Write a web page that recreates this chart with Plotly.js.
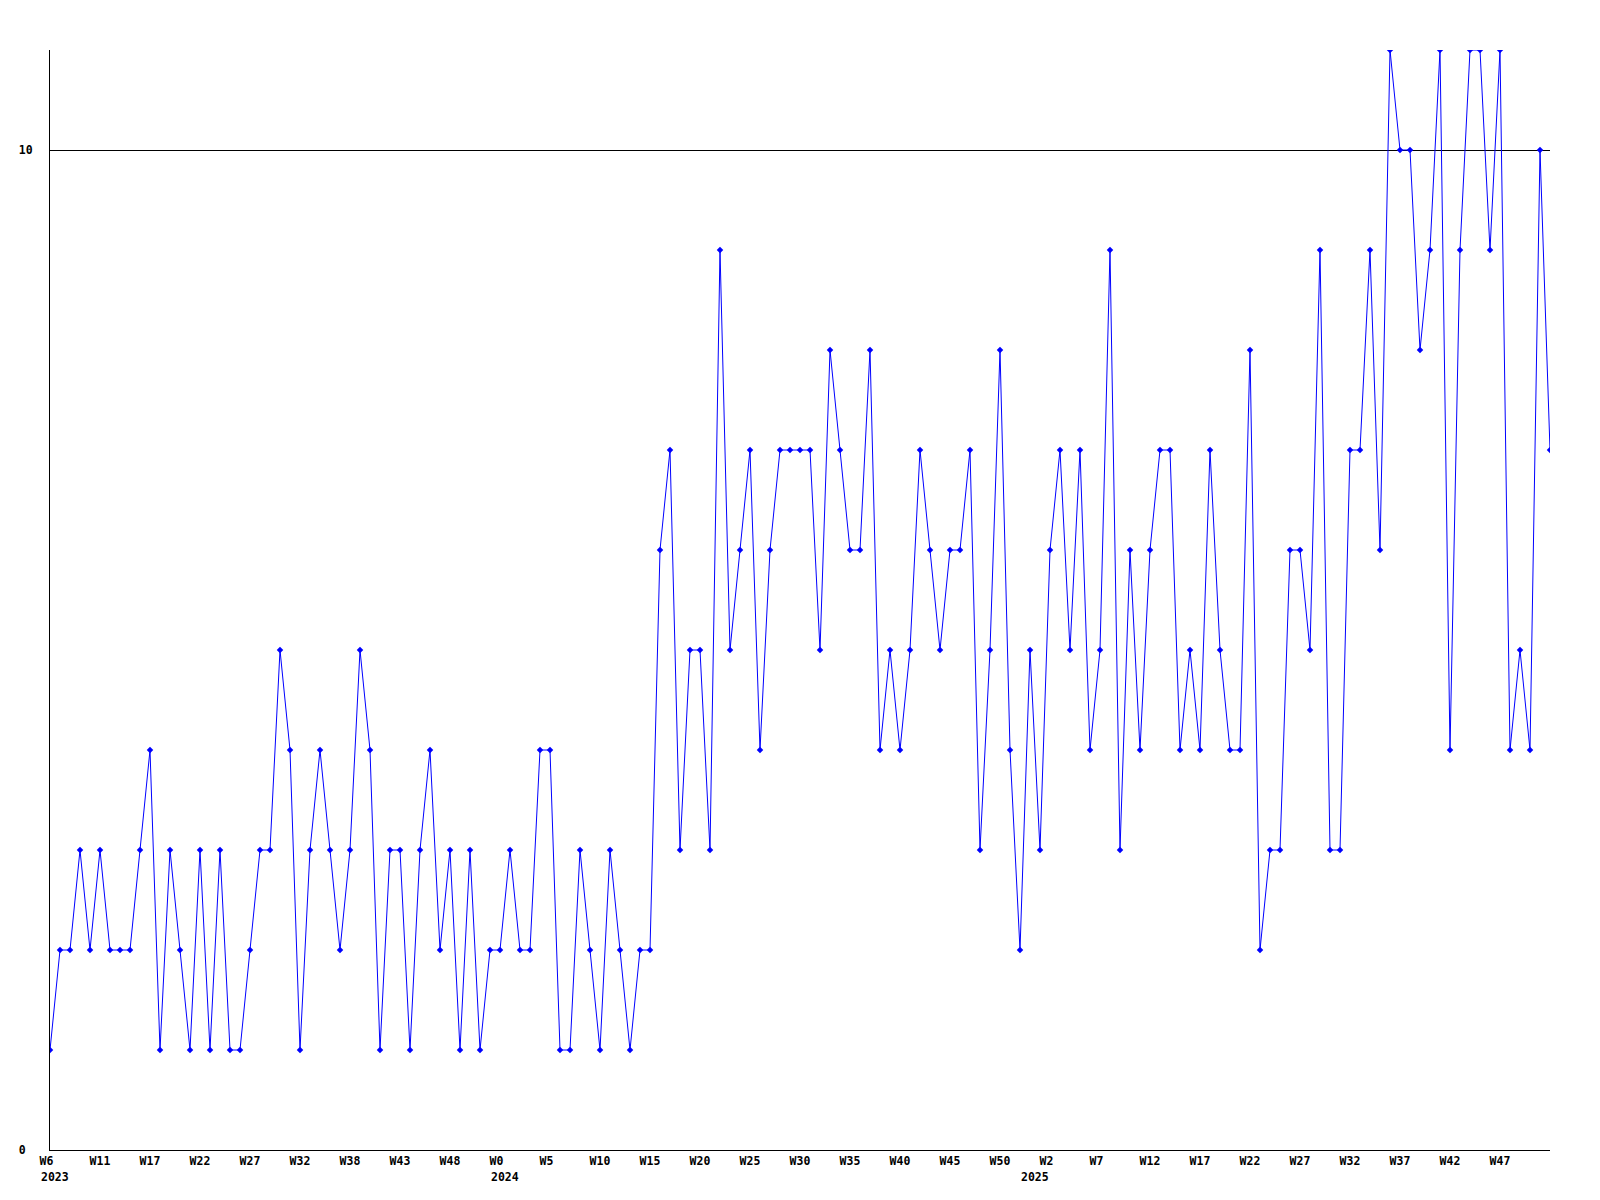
<!DOCTYPE html>
<html>
<head>
<meta charset="utf-8">
<script src="https://cdn.plot.ly/plotly-3.0.1.min.js"></script>
<style>html,body{margin:0;padding:0;background:#fff;}#chart{width:1600px;height:1200px;}</style>
</head>
<body>
<div id="chart"></div>
<script>
// Weekly counts, one per point in order
const values = [
  1,2,2,3,2,3,2,2,2,3,
  4,1,3,2,1,3,1,3,1,1,
  2,3,3,5,4,1,3,4,3,2,
  3,5,4,1,3,3,1,3,4,2,
  3,1,3,1,2,2,3,2,2,4,
  4,1,1,3,2,1,3,2,1,2,
  2,6,7,3,5,5,3,9,5,6,
  7,4,6,7,7,7,7,5,8,7,
  6,6,8,4,5,4,5,7,6,5,
  6,6,7,3,5,8,4,2,5,3,
  6,7,5,7,4,5,9,3,6,4,
  6,7,7,4,5,4,7,5,4,4,
  8,2,3,3,6,6,5,9,3,3,
  7,7,9,6,11,10,10,8,9,11,
  4,9,11,11,9,11,4,5,4,10,
  7
];
const pointIndex = values.map((v, i) => i);

// X tick labels (every 5th point)
const tickPositions = [0,5,10,15,20,25,30,35,40,45,50,55,60,65,70,75,80,85,90,95,100,105,110,115,120,125,130,135,140,145];
const tickLabels = ["W6","W11","W17","W22","W27","W32","W38","W43","W48","W0","W5","W10","W15","W20","W25","W30","W35","W40","W45","W50","W2","W7","W12","W17","W22","W27","W32","W37","W42","W47"];

// Year labels and the tick they sit under
const years = ["2023","2024","2025"];
const yearTickPos = [0,45,100];
const yearShift = [-11,-11,-31];

const yTickVals = [0,10];
const yTickText = ["0\u00a0","10"];

const fontFam = "DejaVu Sans Mono, Liberation Mono, monospace";
const fontSize = 11.5;

// labels are drawn left-aligned in the original; pad short ones (monospace)
const paddedLabels = tickLabels.map(t => t.length < 3 ? t + "\u00a0" : t);

const trace = {
  x: pointIndex,
  y: values,
  type: 'scatter',
  mode: 'lines+markers',
  line: {color: '#0000ff', width: 1},
  marker: {color: '#0000ff', symbol: 'diamond', size: 5},
  hoverinfo: 'y'
};

const annotations = years.map((t, k) => ({
  text: t,
  x: yearTickPos[k],
  xref: 'x',
  y: -0.0245,
  yref: 'paper',
  xanchor: 'left',
  yanchor: 'middle',
  xshift: yearShift[k],
  showarrow: false,
  font: {family: fontFam, size: fontSize, color: '#000', weight: 'bold'}
}));

const layout = {
  width: 1600,
  height: 1200,
  margin: {l: 50, r: 50, t: 50, b: 50},
  paper_bgcolor: '#ffffff',
  plot_bgcolor: '#ffffff',
  showlegend: false,
  xaxis: {
    range: [0, 150],
    showline: true, linecolor: '#000', linewidth: 1,
    showgrid: false, zeroline: false,
    ticks: '',
    tickmode: 'array', tickvals: tickPositions, ticktext: paddedLabels,
    tickfont: {family: fontFam, size: fontSize, color: '#000', weight: 'bold'},
    ticklabelstandoff: 0
  },
  yaxis: {
    range: [0, 11],
    showline: true, linecolor: '#000', linewidth: 1,
    showgrid: true, gridcolor: '#000', gridwidth: 1,
    zeroline: false,
    ticks: '',
    tickmode: 'array', tickvals: yTickVals, ticktext: yTickText,
    tickfont: {family: fontFam, size: fontSize, color: '#000', weight: 'bold'},
    ticklabelstandoff: 14
  },
  annotations: annotations
};

Plotly.newPlot('chart', [trace], layout, {displayModeBar: false, staticPlot: true});
</script>
</body>
</html>
